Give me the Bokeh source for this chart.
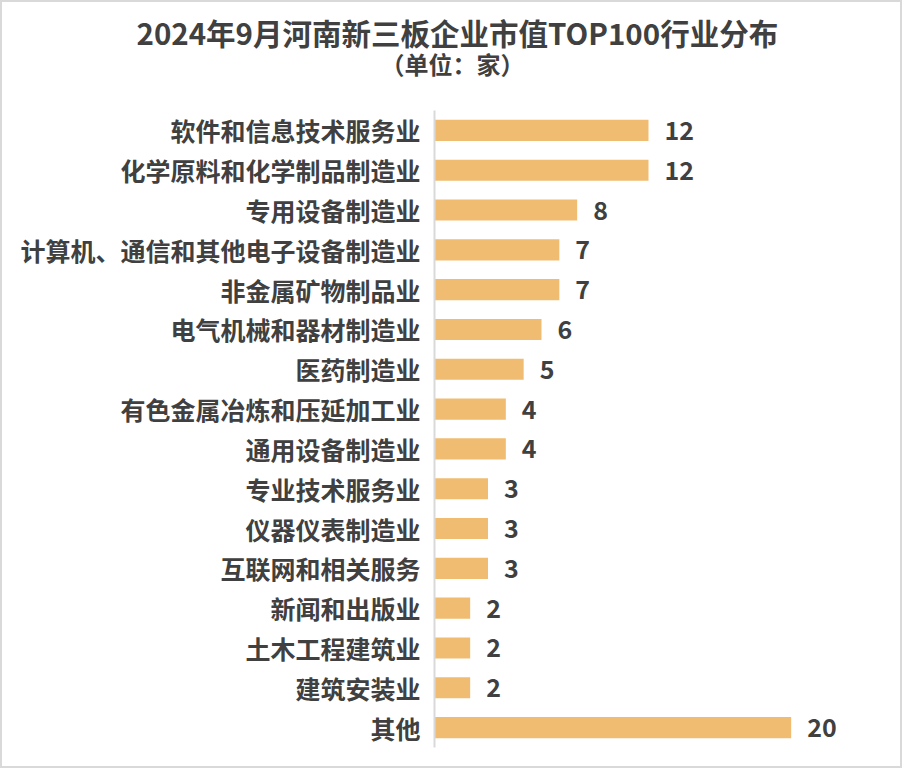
from bokeh.plotting import figure
from bokeh.models import ColumnDataSource, FactorRange, Range1d, Title
from bokeh.core.properties import value
from bokeh.embed import file_html
from bokeh.resources import INLINE

categories = ["软件和信息技术服务业", "化学原料和化学制品制造业", "专用设备制造业",
              "计算机、通信和其他电子设备制造业", "非金属矿物制品业", "电气机械和器材制造业",
              "医药制造业", "有色金属冶炼和压延加工业", "通用设备制造业", "专业技术服务业",
              "仪器仪表制造业", "互联网和相关服务", "新闻和出版业", "土木工程建筑业",
              "建筑安装业", "其他"]
counts = [12, 12, 8, 7, 7, 6, 5, 4, 4, 3, 3, 3, 2, 2, 2, 20]
labels = [str(c) for c in counts]
title_text = "2024年9月河南新三板企业市值TOP100行业分布"
subtitle_text = "（单位：家）"

FONT = "Noto Sans CJK SC"
TXT = "#404040"
BAR = "#F0BC72"

src = ColumnDataSource(dict(cat=categories, val=counts, lab=labels))

p = figure(width=902, height=768, output_backend="svg", toolbar_location=None,
           y_range=FactorRange(*reversed(categories)), x_range=Range1d(0, 24),
           x_axis_location=None, title=None,
           min_border_left=432, min_border_right=42, min_border_bottom=23, min_border_top=0)
p.styles = {"border": "2px solid #D9D9D9"}
p.outline_line_color = None
p.xgrid.visible = False
p.ygrid.visible = False
p.background_fill_color = "white"
p.border_fill_color = "white"

p.hbar(y="cat", right="val", left=0, height=0.53, source=src, color=BAR, line_color=None)
p.text(x="val", y="cat", text="lab", source=src, x_offset=16, text_baseline="middle",
       text_align="left", text_font=value(FONT), text_font_size="25px",
       text_font_style="bold", text_color=TXT)

ax = p.yaxis[0]
ax.axis_line_color = "#D9D9D9"
ax.axis_line_width = 2
ax.major_tick_line_color = None
ax.minor_tick_line_color = None
ax.major_tick_out = 0
ax.major_tick_in = 0
ax.major_label_standoff = 14
ax.major_label_text_font = FONT
ax.major_label_text_font_size = "25px"
ax.major_label_text_font_style = "bold"
ax.major_label_text_color = TXT

# titles stack outward from the frame: spacer, subtitle, main title
spacer = Title(text=" ", text_font_size="1px", standoff=41, align="left")
sub = Title(text=subtitle_text, align="left", offset=-54, text_font=FONT,
            text_font_size="24px", text_font_style="bold", text_color=TXT,
            standoff=-29)
main = Title(text=title_text, align="left", offset=-298, text_font=FONT,
             text_font_size="29.5px", text_font_style="bold", text_color=TXT,
             standoff=12)
p.add_layout(spacer, "above")
p.add_layout(sub, "above")
p.add_layout(main, "above")

open("out.html", "w").write(file_html(p, INLINE))
